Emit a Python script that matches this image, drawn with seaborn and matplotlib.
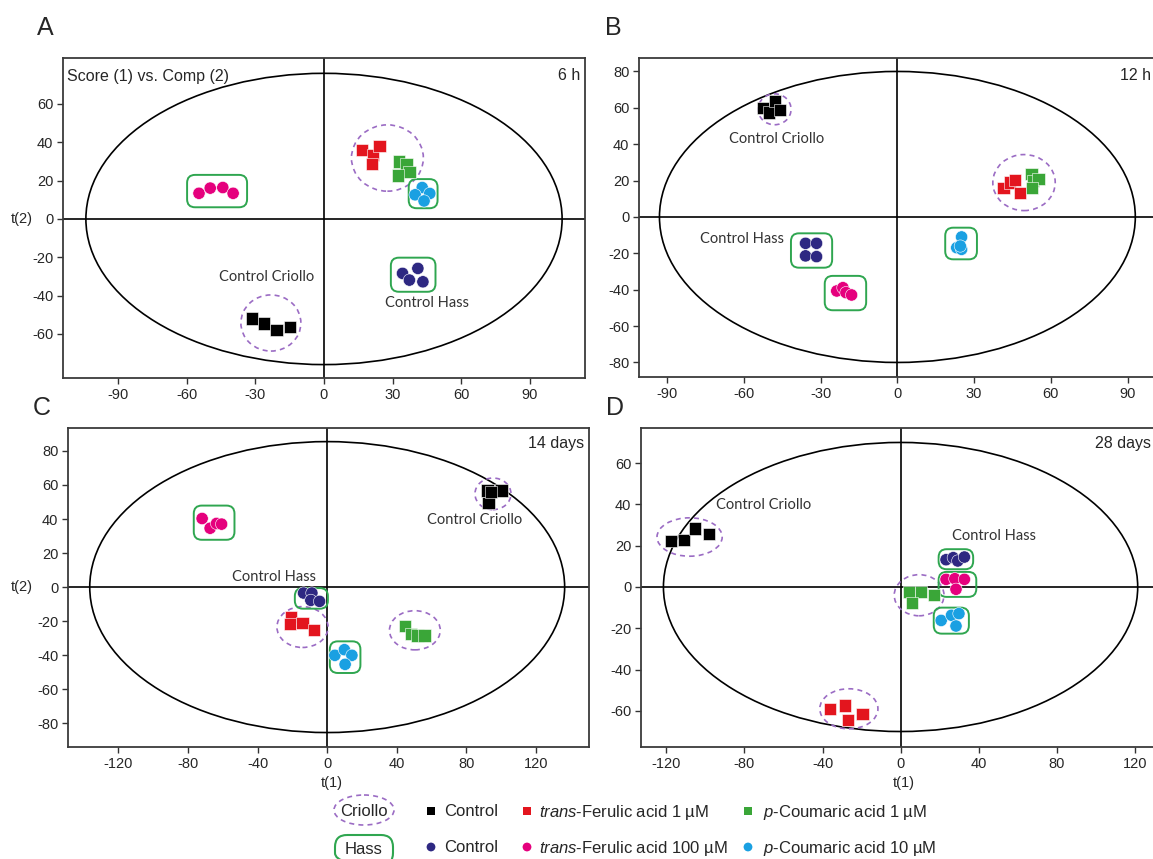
import numpy as np
import pandas as pd
import matplotlib
matplotlib.use("Agg")
import matplotlib.pyplot as plt
import seaborn as sns
from matplotlib.patches import Ellipse, FancyBboxPatch

# ---------------- data ----------------
GROUPS = ["Criollo Control", "Criollo trans-Ferulic 1", "Criollo p-Coumaric 1",
          "Hass Control", "Hass trans-Ferulic 100", "Hass p-Coumaric 10"]
COLORS = ["#000000", "#e3151e", "#3aa638", "#2e2882", "#e5007d", "#1aa0e2"]
MARKS = ["s", "s", "s", "o", "o", "o"]
PANELS = ["A", "B", "C", "D"]
PANEL_TAGS = ["6 h", "12 h", "14 days", "28 days"]

# t(1) / t(2) scores, one list per group (order of GROUPS)
A_T1 = [[-31.6, -26.2, -20.7, -14.8], [16.6, 21.3, 24.2, 21.0], [32.6, 36.0, 37.3, 32.4],
        [34.3, 41.0, 37.3, 43.2], [-54.6, -49.7, -44.2, -39.7], [42.9, 39.8, 46.2, 43.7]]
A_T2 = [[-52.0, -54.6, -58.1, -56.4], [35.8, 33.5, 37.9, 28.6], [30.0, 28.8, 24.4, 22.7],
        [-28.4, -25.8, -31.9, -32.8], [13.4, 16.1, 16.4, 13.4], [16.4, 12.6, 13.3, 9.4]]
B_T1 = [[-52.4, -50.2, -47.8, -45.9], [41.5, 44.0, 46.0, 47.8], [52.4, 53.1, 55.2, 52.7],
        [-35.9, -31.6, -35.9, -31.6], [-23.7, -21.3, -20.1, -17.9], [25.1, 23.2, 25.1, 24.6]]
B_T2 = [[60.1, 57.4, 63.8, 58.7], [16.0, 19.0, 20.5, 13.0], [23.5, 19.8, 20.7, 15.8],
        [-14.5, -14.5, -21.4, -21.8], [-40.7, -38.9, -41.6, -42.9], [-11.0, -16.9, -17.8, -16.0]]
C_T1 = [[92.1, 100.2, 92.7, 94.0], [-20.8, -21.5, -14.2, -7.7], [44.9, 48.2, 51.9, 55.9],
        [-13.6, -8.8, -9.4, -4.4], [-71.9, -67.3, -63.6, -60.7], [4.4, 9.9, 14.2, 10.3]]
C_T2 = [[56.7, 56.7, 49.3, 56.0], [-17.6, -21.5, -21.1, -25.4], [-22.9, -27.4, -28.4, -28.4],
        [-3.5, -3.5, -7.8, -8.4], [40.3, 34.6, 37.4, 37.0], [-40.1, -36.8, -40.1, -45.4]]
D_T1 = [[-117.8, -111.0, -105.3, -98.3], [-36.3, -28.4, -26.8, -19.5], [4.2, 10.4, 17.0, 5.7],
        [23.3, 27.0, 29.3, 32.7], [23.3, 27.8, 32.7, 28.4], [20.8, 26.1, 29.9, 28.4]]
D_T2 = [[22.1, 22.9, 28.3, 25.5], [-59.0, -57.4, -64.3, -61.4], [-2.4, -2.4, -4.0, -7.8],
        [13.2, 14.2, 12.6, 14.5], [3.7, 4.0, 3.7, -1.1], [-16.2, -13.7, -12.9, -18.9]]

X_TICKS = [[-90, -60, -30, 0, 30, 60, 90], [-90, -60, -30, 0, 30, 60, 90],
           [-120, -80, -40, 0, 40, 80, 120], [-120, -80, -40, 0, 40, 80, 120]]
Y_TICKS = [[-60, -40, -20, 0, 20, 40, 60], [-80, -60, -40, -20, 0, 20, 40, 60, 80],
           [-80, -60, -40, -20, 0, 20, 40, 60, 80], [-60, -40, -20, 0, 20, 40, 60]]

# ---------------- layout ----------------
W, H = 1153, 859
AX_PX = [(63, 58, 585, 378), (639, 58, 1166, 377), (68, 428, 589, 747), (641, 428, 1166, 747)]
XLIM = [(-114, 114), (-101, 105), (-149, 150.5), (-133, 136)]
YLIM = [(-83, 84), (-88, 87.4), (-94, 93.5), (-77.5, 77)]
ELL = [(104, 76), (93, 80), (136.5, 85.5), (121.5, 70)]
LETTER_PX = [(45, 28), (613, 28), (42, 408), (615, 408)]
TAG_PX = [(580, 75), (1151, 75), (584, 444), (1151, 444)]

# enclosures: dashed ellipses (cx, cy, w, h) and rounded boxes (x0, x1, y0, y1), data units
DASHED = [[(27.7, 31.8, 31.4, 34.6), (-23.2, -54.3, 26.2, 29.3)],
          [(-48.0, 59.2, 12.9, 17.0), (49.5, 18.9, 24.4, 30.8)],
          [(95.3, 54.8, 20.7, 18.6), (-14.2, -23.5, 29.4, 24.0), (50.4, -25.4, 29.2, 23.0)],
          [(-108.1, 24.2, 33.4, 18.6), (9.5, -4.0, 25.5, 19.9), (-26.5, -59.0, 29.8, 19.4)]]
BOXES = [[(-59.8, -33.6, 6.1, 23.0), (37.0, 49.6, 5.6, 20.8), (29.2, 48.7, -38.0, -20.2)],
         [(-41.6, -25.5, -27.9, -9.0), (-28.4, -12.2, -51.3, -32.4), (18.7, 31.1, -23.3, -5.9)],
         [(-76.7, -53.3, 27.8, 47.9), (-18.6, 0.4, -12.7, -0.6), (1.5, 19.1, -50.5, -31.9)],
         [(19.5, 37.2, 8.6, 18.3), (19.5, 38.8, -4.8, 7.3), (17.0, 35.0, -22.6, -10.0)]]
NOTES = [[("Control Criollo", -24.9, -30.2), ("Control Hass", 44.9, -43.6)],
         [("Control Criollo", -47.3, 43.1), ("Control Hass", -60.7, -12.3)],
         [("Control Criollo", 85.0, 39.7), ("Control Hass", -30.7, 5.9)],
         [("Control Criollo", -70.3, 39.9), ("Control Hass", 47.8, 24.6)]]

DASH_COLOR = "#9b6cc4"
BOX_COLOR = "#2fa650"

# ---------------- style ----------------
sns.set_style("ticks")
plt.rcParams["font.family"] = ["Liberation Sans", "DejaVu Sans"]
plt.rcParams["axes.unicode_minus"] = False
plt.rcParams["mathtext.fontset"] = "custom"
plt.rcParams["mathtext.rm"] = "Liberation Sans"
plt.rcParams["mathtext.it"] = "Liberation Sans:italic"

rows = []
for p, (T1, T2) in zip(PANELS, [(A_T1, A_T2), (B_T1, B_T2), (C_T1, C_T2), (D_T1, D_T2)]):
    for g, xs, ys in zip(GROUPS, T1, T2):
        for xv, yv in zip(xs, ys):
            rows.append({"panel": p, "group": g, "t1": xv, "t2": yv})
df = pd.DataFrame(rows)
palette = dict(zip(GROUPS, COLORS))
markers = dict(zip(GROUPS, MARKS))

fig = plt.figure(figsize=(W / 100, H / 100), dpi=100)


def frac_rect(l, t, r, b):
    return [l / W, 1 - b / H, (r - l) / W, (b - t) / H]


axes = []
for i, p in enumerate(PANELS):
    l, t, r, b = AX_PX[i]
    ax = fig.add_axes(frac_rect(l, t, r, b))
    axes.append(ax)
    sub = df[df.panel == p]
    ax.axhline(0, color="black", lw=1.2, zorder=1)
    ax.axvline(0, color="black", lw=1.2, zorder=1)
    ax.add_patch(Ellipse((0, 0), 2 * ELL[i][0], 2 * ELL[i][1], fill=False,
                         ec="black", lw=1.2, zorder=1))
    sx = (r - l) / (XLIM[i][1] - XLIM[i][0])
    sy = (b - t) / (YLIM[i][1] - YLIM[i][0])
    for (cx, cy, w, h) in DASHED[i]:
        ax.add_patch(Ellipse((cx, cy), w, h, fill=False, ec=DASH_COLOR, lw=1.2,
                             ls=(0, (3, 2.5)), zorder=2))
    for (x0, x1, y0, y1) in BOXES[i]:
        ax.add_patch(FancyBboxPatch((x0, y0), x1 - x0, y1 - y0,
                                    boxstyle=f"round,pad=0,rounding_size={8 / sx:.3f}",
                                    mutation_aspect=sx / sy, fill=False,
                                    ec=BOX_COLOR, lw=1.4, zorder=2))
    sns.scatterplot(data=sub, x="t1", y="t2", hue="group", style="group",
                    palette=palette, markers=markers, hue_order=GROUPS,
                    style_order=GROUPS, s=78, edgecolor="white", linewidth=0.4,
                    legend=False, ax=ax, zorder=3)
    for txt, tx, ty in NOTES[i]:
        ax.text(tx, ty, txt, ha="center", va="center", fontsize=10.5,
                family="Lato", color="#333333", zorder=4)
    ax.set_xlim(*XLIM[i])
    ax.set_ylim(*YLIM[i])
    ax.set_xticks(X_TICKS[i])
    ax.set_yticks(Y_TICKS[i])
    ax.tick_params(labelsize=10.5, length=4, width=1, color="#333333", pad=3)
    ax.set_xlabel("")
    ax.set_ylabel("")
    for sp in ax.spines.values():
        sp.set_color("#3a3a3a")
        sp.set_linewidth(1.3)
    fig.text(TAG_PX[i][0] / W, 1 - TAG_PX[i][1] / H, PANEL_TAGS[i], ha="right",
             va="center", fontsize=11.5)
    fig.text(LETTER_PX[i][0] / W, 1 - LETTER_PX[i][1] / H, p, ha="center",
             va="center", fontsize=18)

# panel-specific labels
axA = axes[0]
axA.text(0.008, 0.965, "Score (1) vs. Comp (2)", transform=axA.transAxes,
         ha="left", va="top", fontsize=11.5)
for ypx in (219, 587):
    fig.text(22 / W, 1 - ypx / H, "t(2)", ha="center", va="center", fontsize=10.5)
for xpx in (332, 904):
    fig.text(xpx / W, 1 - 783 / H, "t(1)", ha="center", va="center", fontsize=10.5)

# ---------------- bottom legend ----------------
lax = fig.add_axes([0, 0, 1, 1], zorder=-1)
lax.set_xlim(0, W)
lax.set_ylim(H, 0)
lax.axis("off")
ROW_Y = [811, 847]
lax.add_patch(Ellipse((364, 810), 60, 30, fill=False, ec=DASH_COLOR, lw=1.2,
                      ls=(0, (3, 2.5))))
lax.text(364, 811, "Criollo", ha="center", va="center", fontsize=12)
lax.add_patch(FancyBboxPatch((335, 835), 58, 30,
                             boxstyle="round,pad=0,rounding_size=12",
                             fill=False, ec=BOX_COLOR, lw=1.5))
lax.text(364, 849, "Hass", ha="center", va="center", fontsize=12)
LEG_LABELS = ["Control", r"$\mathit{trans}$-Ferulic acid 1 µM", r"$\mathit{p}$-Coumaric acid 1 µM",
              "Control", r"$\mathit{trans}$-Ferulic acid 100 µM", r"$\mathit{p}$-Coumaric acid 10 µM"]
MK_X = [431, 527, 748]
TX_X = [444, 539, 763]
for k in range(6):
    row, col = divmod(k, 3)
    lax.scatter([MK_X[col]], [ROW_Y[row]], marker=MARKS[k], s=40, c=COLORS[k],
                edgecolors="none")
    lax.text(TX_X[col], ROW_Y[row] + 1, LEG_LABELS[k], ha="left", va="center",
             fontsize=12)

fig.savefig("out.png", dpi=100)
